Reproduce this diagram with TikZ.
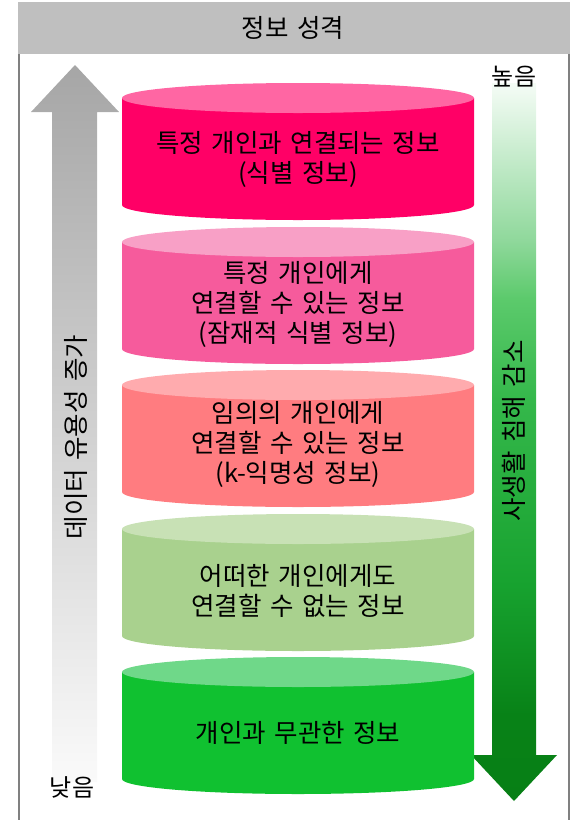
\documentclass[tikz,border=0pt]{standalone}
\usepackage{fontspec}
\setmainfont{Noto Sans CJK KR}[WordSpace=1.5]
\definecolor{hdr}{HTML}{BFBFBF}
\definecolor{frm}{HTML}{808080}
\definecolor{cAb}{HTML}{FF0066}\definecolor{cAt}{HTML}{FF66A3}
\definecolor{cBb}{HTML}{F65B9C}\definecolor{cBt}{HTML}{F8A0C6}
\definecolor{cCb}{HTML}{FF7C80}\definecolor{cCt}{HTML}{FFABAE}
\definecolor{cDb}{HTML}{A9D18E}\definecolor{cDt}{HTML}{C8E1B5}
\definecolor{cEb}{HTML}{10C130}\definecolor{cEt}{HTML}{6FD889}
\definecolor{gtop}{HTML}{A6A6A6}\definecolor{gmid}{HTML}{C6C6C6}\definecolor{gbot}{HTML}{FAFAFA}
\pgfdeclareverticalshading{greenarrow}{100bp}{%
  color(0bp)=(rgb,255:red,7;green,127;blue,21);
  color(25bp)=(rgb,255:red,7;green,127;blue,21);
  color(31bp)=(rgb,255:red,8;green,130;blue,23);
  color(40bp)=(rgb,255:red,23;green,162;blue,47);
  color(53bp)=(rgb,255:red,53;green,184;blue,75);
  color(60bp)=(rgb,255:red,92;green,202;blue,108);
  color(64bp)=(rgb,255:red,143;green,216;blue,155);
  color(75bp)=(rgb,255:red,245;green,252;blue,246);
  color(100bp)=(rgb,255:red,245;green,252;blue,246)}
\newcommand{\dbcyl}[4]{%
  \fill[#2] (122,#1+15) -- (474,#1+15) -- (474,#1+122)
     arc[start angle=0,end angle=180,x radius=176,y radius=15] -- cycle;
  \fill[#3] (298,#1+15) ellipse[x radius=176,y radius=15];
  \coordinate (#4) at (298,#1+15);}
\begin{document}
\begin{tikzpicture}[x=1pt,y=-1pt,
  txt/.style={inner sep=0pt,align=center,font=\fontsize{25.5}{30}\selectfont},
  side/.style={inner sep=0pt,font=\fontsize{24}{28}\selectfont}]
\useasboundingbox (0,0) rectangle (573,820);
% frame
\fill[hdr] (18,2) rectangle (570,54);
\draw[frm,line width=1.6pt] (18.8,54) -- (18.8,821);
\draw[frm,line width=1.6pt] (569.2,54) -- (569.2,821);
\node[txt] (title) at (293,28) {정보 성격};
% left arrow
\shade[top color=gtop,middle color=gmid,bottom color=gbot]
  (75,65) -- (119,112) -- (97,112) -- (97,782) -- (52,782) -- (52,112) -- (31,112) -- cycle;
% right arrow
\shade[shading=greenarrow]
  (492,83) -- (536,83) -- (536,755) -- (557,755) -- (514,801) -- (471,755) -- (492,755) -- cycle;
% cylinders
\dbcyl{83}{cAb}{cAt}{cylA}
\dbcyl{227}{cBb}{cBt}{cylB}
\dbcyl{370}{cCb}{cCt}{cylC}
\dbcyl{514}{cDb}{cDt}{cylD}
\dbcyl{657}{cEb}{cEt}{cylE}
\node[txt] (tA) at (298,159) {특정 개인과 연결되는 정보\\(식별 정보)};
\node[txt] (tB) at (298,304) {특정 개인에게\\연결할 수 있는 정보\\(잠재적 식별 정보)};
\node[txt] (tC) at (298,444) {임의의 개인에게\\연결할 수 있는 정보\\(k-익명성 정보)};
\node[txt] (tD) at (298,591) {어떠한 개인에게도\\연결할 수 없는 정보};
\node[txt] (tE) at (298,733) {개인과 무관한 정보};
% side labels
\node[txt,rotate=90] (useful) at (76,437) {데이터 유용성 증가};
\node[txt,rotate=90] (privacy) at (514,431) {사생활 침해 감소};
\node[side] (high) at (514,77) {높음};
\node[side] (low) at (72,787) {낮음};
\end{tikzpicture}
\end{document}
